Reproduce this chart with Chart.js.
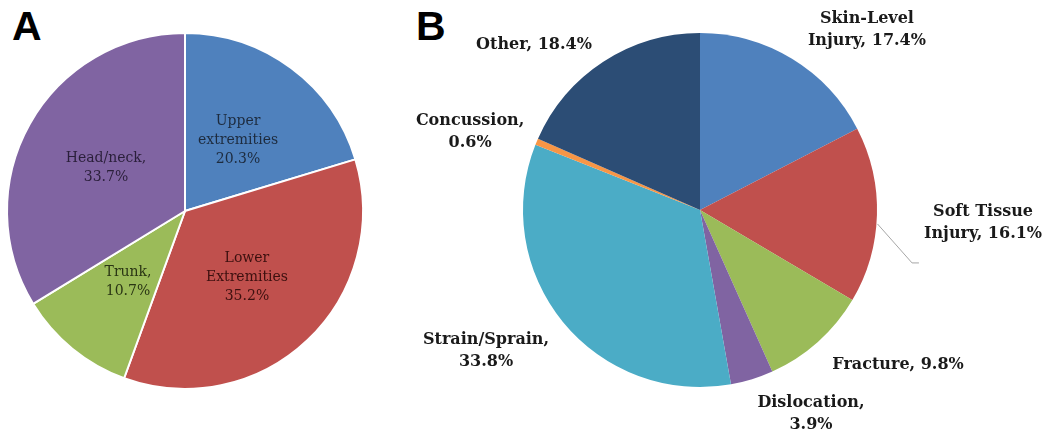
<!DOCTYPE html>
<html>
<head>
<meta charset="utf-8">
<script src="https://cdn.jsdelivr.net/npm/chart.js@4.4.1/dist/chart.umd.min.js"></script>
<style>
  html, body { margin: 0; padding: 0; background: #fff; }
  body { width: 1045px; height: 434px; position: relative; overflow: hidden; }
  canvas { position: absolute; left: 0; top: 0; }
  .panel { position: absolute; font-family: "Liberation Sans", Arial, sans-serif; font-weight: bold; font-size: 41px; line-height: 1; color: #000; }
</style>
</head>
<body>
<div class="panel" style="left:12px; top:6px;">A</div>
<div class="panel" style="left:416px; top:6px;">B</div>
<canvas id="pieA" width="1045" height="434"></canvas>
<canvas id="pieB" width="1045" height="434"></canvas>
<script>
// panel A - body region
const catsA = ["Upper\nextremities", "Lower\nExtremities", "Trunk,", "Head/neck,"];
const valsA = [20.3, 35.2, 10.7, 33.7];
const colorsA = ["#4f81bd", "#c0504d", "#9bbb59", "#8064a2"];
const textColA = ["#1d2b3e", "#3c100f", "#2a3514", "#2a1f3a"];

// panel B - injury type
const catsB = ["Skin-Level\nInjury,", "Soft Tissue\nInjury,", "Fracture,", "Dislocation,", "Strain/Sprain,", "Concussion,", "Other,"];
const valsB = [17.4, 16.1, 9.8, 3.9, 33.8, 0.6, 18.4];
const colorsB = ["#4f81bd", "#c0504d", "#9bbb59", "#8064a2", "#4bacc6", "#f79646", "#2c4d75"];
const inlineB = [true, true, true, false, false, false, true];

// label placement, in radius units from the pie centre
const posA = [[0.298, -0.399], [0.348, 0.371], [-0.320, 0.399], [-0.444, -0.242]];
const posB = [[0.943, -1.017], [1.599, 0.071], [1.119, 0.876], [0.627, 1.153], [-1.209, 0.797], [-1.299, -0.444], [-0.938, -0.932]];

function linesFor(cat, v, inline) {
  const parts = cat.split("\n");
  const pct = v.toFixed(1) + "%";
  if (inline) parts[parts.length - 1] += " " + pct;
  else parts.push(pct);
  return parts;
}

function labelPlugin(id, pos, lines, colors, font, lineH, leader) {
  return {
    id: id,
    afterDatasetsDraw(chart) {
      const ctx = chart.ctx;
      const arcs = chart.getDatasetMeta(0).data;
      const cx = arcs[0].x, cy = arcs[0].y, r = arcs[0].outerRadius;
      ctx.save();
      ctx.font = font;
      ctx.textAlign = "center";
      ctx.textBaseline = "middle";
      arcs.forEach((arc, i) => {
        const ls = lines[i];
        const x = cx + pos[i][0] * r;
        const y0 = cy + pos[i][1] * r - (ls.length - 1) * lineH / 2;
        ctx.fillStyle = colors[i];
        ls.forEach((t, j) => ctx.fillText(t, x, y0 + j * lineH));
      });
      if (leader) {
        const a = arcs[leader.index];
        const mid = (a.startAngle + a.endAngle) / 2 + leader.angleShift;
        ctx.strokeStyle = "#a6a6a6";
        ctx.lineWidth = 1;
        ctx.beginPath();
        ctx.moveTo(cx + Math.cos(mid) * (r + 1), cy + Math.sin(mid) * (r + 1));
        ctx.lineTo(cx + leader.bend[0] * r, cy + leader.bend[1] * r);
        ctx.lineTo(cx + leader.end[0] * r, cy + leader.end[1] * r);
        ctx.stroke();
      }
      ctx.restore();
    }
  };
}

function makePie(canvasId, cats, vals, colors, border, padding, plugin) {
  return new Chart(document.getElementById(canvasId).getContext("2d"), {
    type: "pie",
    data: {
      labels: cats.map(c => c.replace("\n", " ")),
      datasets: [{
        data: vals,
        backgroundColor: colors,
        borderColor: "#fff",
        borderWidth: border
      }]
    },
    options: {
      responsive: false,
      maintainAspectRatio: false,
      animation: false,
      layout: { padding: padding },
      plugins: {
        legend: { display: false },
        tooltip: { enabled: false }
      }
    },
    plugins: [plugin]
  });
}

const linesA = catsA.map((c, i) => linesFor(c, valsA[i], false));
const linesB = catsB.map((c, i) => linesFor(c, valsB[i], inlineB[i]));

makePie("pieA", catsA, valsA, colorsA, 2,
  { left: 6, right: 681, top: 32, bottom: 44 },
  labelPlugin("labelsA", posA, linesA, textColA, "14px 'DejaVu Serif', serif", 19, null));

makePie("pieB", catsB, valsB, colorsB, 0,
  { left: 522, right: 167, top: 33, bottom: 47 },
  labelPlugin("labelsB", posB, linesB, colorsB.map(() => "#1a1a1a"), "bold 16px 'DejaVu Serif', serif", 22,
    { index: 1, angleShift: 0.05, bend: [1.198, 0.299], end: [1.237, 0.299] }));
</script>
</body>
</html>
